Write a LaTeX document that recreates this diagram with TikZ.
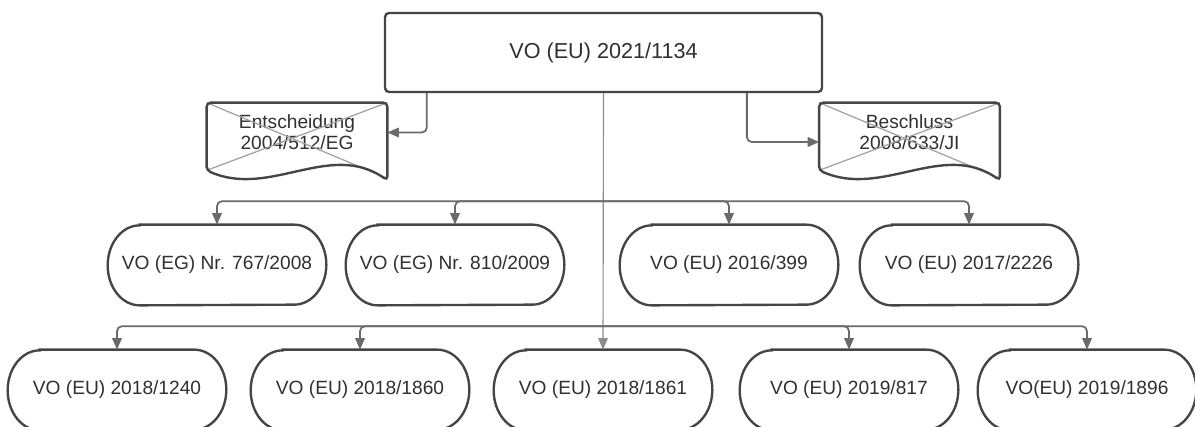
\documentclass[tikz,border=0pt]{standalone}
\usepackage{fontspec}
\setmainfont{Liberation Sans}
\usetikzlibrary{arrows.meta,calc}
\definecolor{ink}{HTML}{303030}
\definecolor{edge}{HTML}{454545}
\definecolor{wire}{HTML}{6A6A6A}
\definecolor{trunkc}{HTML}{8C8C8C}
\definecolor{crossc}{HTML}{A0A0A0}
\begin{document}
\begin{tikzpicture}[x=0.02cm,y=0.02cm,
  lbl/.style={text=ink,font=\fontsize{10.9}{12}\selectfont},
  pill/.style={lbl,minimum width=4.36cm,minimum height=1.6cm,inner sep=0pt},
  docbox/.style={lbl,align=center,minimum width=3.6cm,minimum height=1.18cm,inner sep=0pt,
    font=\fontsize{10.9}{11.9}\selectfont},
  outline/.style={draw=edge,line width=1.35pt},
  crossline/.style={draw=crossc,line width=0.7pt},
  tip/.style={-{Triangle[length=0.23cm,width=0.19cm]}},
  conn/.style={draw=wire,line width=1pt,rounded corners=0.1cm,tip},
  trunk/.style={draw=trunkc,line width=0.65pt,tip}
]
\useasboundingbox (0,0) rectangle (1195,-426);

% root regulation
\node[lbl,font=\fontsize{12.3}{14}\selectfont,outline,rounded corners=0.08cm,
      minimum width=8.74cm,minimum height=1.58cm] (top) at (603.5,-52.5) {VO (EU) 2021/1134};

% repealed acts (document shapes, crossed out)
\node[docbox] (ent) at (297,-132.5) {Entscheidung\\2004/512/EG};
\node[docbox] (bes) at (909.5,-132.5) {Beschluss\\2008/633/JI};
\foreach \n in {ent,bes}{
  \draw[crossline] (\n.north west) -- ($(\n.south east)+(0,-16)$);
  \draw[crossline] (\n.north east) -- ($(\n.south west)+(0,-8)$);
  \draw[outline,rounded corners=0.08cm] ($(\n.south west)+(0,-8)$) -- (\n.north west) -- (\n.north east)
    -- ($(\n.south east)+(0,-18)$) .. controls +(-57,40) and +(63,-28) .. ($(\n.south west)+(0,-8)$) -- cycle;
}

% amended regulations, first row
\node[pill] (a1) at (217,-265) {VO (EG) Nr. 767/2008};
\node[pill] (a2) at (455,-265) {VO (EG) Nr. 810/2009};
\node[pill] (a3) at (729,-265) {VO (EU) 2016/399};
\node[pill] (a4) at (969,-265) {VO (EU) 2017/2226};

% amended regulations, second row
\node[pill] (b1) at (117,-390) {VO (EU) 2018/1240};
\node[pill] (b2) at (360,-390) {VO (EU) 2018/1860};
\node[pill] (b3) at (603,-390) {VO (EU) 2018/1861};
\node[pill] (b4) at (849,-390) {VO (EU) 2019/817};
\node[pill] (b5) at (1087,-390) {VO(EU) 2019/1896};

% terminator outlines with elliptic ends
\foreach \n in {a1,a2,a3,a4,b1,b2,b3,b4,b5}{
  \draw[outline] ($(\n.north west)+(32,0)$) -- ($(\n.north east)+(-32,0)$)
    arc[start angle=90,end angle=-90,x radius=0.64cm,y radius=0.8cm]
    -- ($(\n.south west)+(32,0)$)
    arc[start angle=270,end angle=90,x radius=0.64cm,y radius=0.8cm] -- cycle;
}

% connectors
\coordinate (tl) at ($(top.south west)+(43,0)$);
\coordinate (tr) at ($(top.south west)+(363,0)$);
\draw[conn] (tl) |- (ent.east);
\draw[conn] (tr) |- ($(bes.west)+(0,-9.5)$);

\draw[trunk] (top.south) -- (b3.north);
\coordinate (j1) at ($(top.south)+(0,-108)$);
\coordinate (j2) at ($(top.south)+(0,-233)$);
\foreach \n in {a1,a2,a3,a4} \draw[conn] (j1) -| (\n.north);
\foreach \n in {b1,b2,b4,b5} \draw[conn] (j2) -| (\n.north);
\end{tikzpicture}
\end{document}
